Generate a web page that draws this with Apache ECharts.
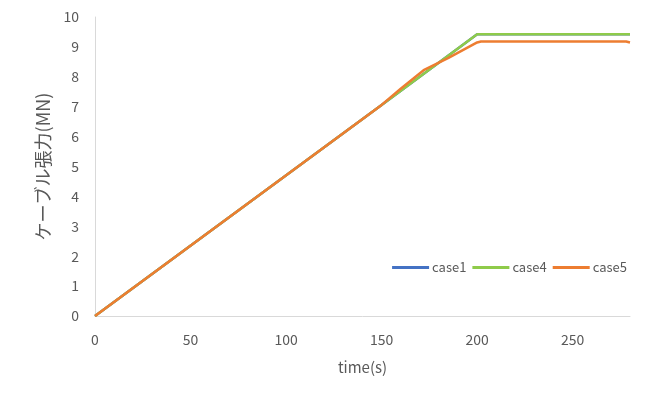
<!DOCTYPE html>
<html><head><meta charset="utf-8">
<script src="https://cdn.jsdelivr.net/npm/echarts@6/dist/echarts.min.js"></script>
<style>html,body{margin:0;padding:0;background:#fff}#c{width:660px;height:396px}</style>
</head><body><div id="c"></div>
<script>
var case1Time = [0, 150, 200, 280];
var case1Val  = [0, 7.06, 9.42, 9.42];
var case4Time = [0, 150, 200, 280];
var case4Val  = [0, 7.06, 9.42, 9.42];
var case5Time = [0, 150, 160, 172, 185, 200,
  201, 202, 203, 204, 205, 206, 207, 208, 209, 210, 211, 212, 213, 214, 215, 216, 217, 218, 219, 220,
  221, 222, 223, 224, 225, 226, 227, 228, 229, 230, 231, 232, 233, 234, 235, 236, 237, 238, 239, 240,
  241, 242, 243, 244, 245, 246, 247, 248, 249, 250, 251, 252, 253, 254, 255, 256, 257, 258, 259, 260,
  261, 262, 263, 264, 265, 266, 267, 268, 269, 270, 271, 272, 273, 274, 275, 276, 277, 278, 279, 280];
var case5Val  = [0, 7.06, 7.6, 8.22, 8.63, 9.15,
  9.12, 9.18, 9.12, 9.18, 9.12, 9.18, 9.12, 9.18, 9.12, 9.18, 9.12, 9.18, 9.12, 9.18, 9.12, 9.18, 9.12, 9.18, 9.12, 9.18,
  9.12, 9.18, 9.12, 9.18, 9.12, 9.18, 9.12, 9.18, 9.12, 9.18, 9.12, 9.18, 9.12, 9.18, 9.12, 9.18, 9.12, 9.18, 9.12, 9.18,
  9.12, 9.18, 9.12, 9.18, 9.12, 9.18, 9.12, 9.18, 9.12, 9.18, 9.12, 9.18, 9.12, 9.18, 9.12, 9.18, 9.12, 9.18, 9.12, 9.18,
  9.12, 9.18, 9.12, 9.18, 9.12, 9.18, 9.12, 9.18, 9.12, 9.18, 9.12, 9.18, 9.12, 9.18, 9.12, 9.18, 9.12, 9.18, 9.12, 9.15];
var xTicks = [0, 50, 100, 150, 200, 250];
var yTicks = [0, 1, 2, 3, 4, 5, 6, 7, 8, 9, 10];

function pairs(t, v) { return t.map(function (x, i) { return [x, v[i]]; }); }
var font = '"Noto Sans CJK JP", "Open Sans", sans-serif';
var chart = echarts.init(document.getElementById('c'));
chart.setOption({
  animation: false,
  textStyle: { fontFamily: font },
  grid: { left: 95, right: 30, top: 17, bottom: 80 },
  legend: {
    right: 28, top: 256, itemWidth: 37, itemHeight: 3, itemGap: 6,
    icon: 'rect',
    textStyle: { color: '#595959', fontSize: 13, fontFamily: font, padding: [0, 0, 0, -2] },
    data: ['case1', 'case4', 'case5']
  },
  xAxis: {
    type: 'value', min: 0, max: 280, interval: 50,
    name: 'time(s)', nameLocation: 'middle', nameGap: 44,
    nameTextStyle: { color: '#595959', fontSize: 15, fontFamily: font },
    axisLine: { show: true, lineStyle: { color: '#d9d9d9', width: 1 } },
    axisTick: { show: false }, splitLine: { show: false },
    axisLabel: { color: '#595959', fontSize: 14, margin: 17, customValues: xTicks }
  },
  yAxis: {
    type: 'value', min: 0, max: 10, interval: 1,
    name: 'ケーブル張力(MN)', nameLocation: 'middle', nameGap: 43,
    nameTextStyle: { color: '#595959', fontSize: 18, fontFamily: font },
    axisLine: { show: true, lineStyle: { color: '#d9d9d9', width: 1 } },
    axisTick: { show: false }, splitLine: { show: false },
    axisLabel: { color: '#595959', fontSize: 14, margin: 16, customValues: yTicks }
  },
  series: [
    { name: 'case1', type: 'line', data: pairs(case1Time, case1Val), showSymbol: false,
      itemStyle: { color: '#4472C4' }, lineStyle: { width: 2.5, color: '#4472C4' } },
    { name: 'case4', type: 'line', data: pairs(case4Time, case4Val), showSymbol: false,
      itemStyle: { color: '#8FCB4A' }, lineStyle: { width: 2.5, color: '#8FCB4A' } },
    { name: 'case5', type: 'line', data: pairs(case5Time, case5Val), showSymbol: false,
      itemStyle: { color: '#ED7D31' }, lineStyle: { width: 2.5, color: '#ED7D31' } }
  ]
});
</script></body></html>
